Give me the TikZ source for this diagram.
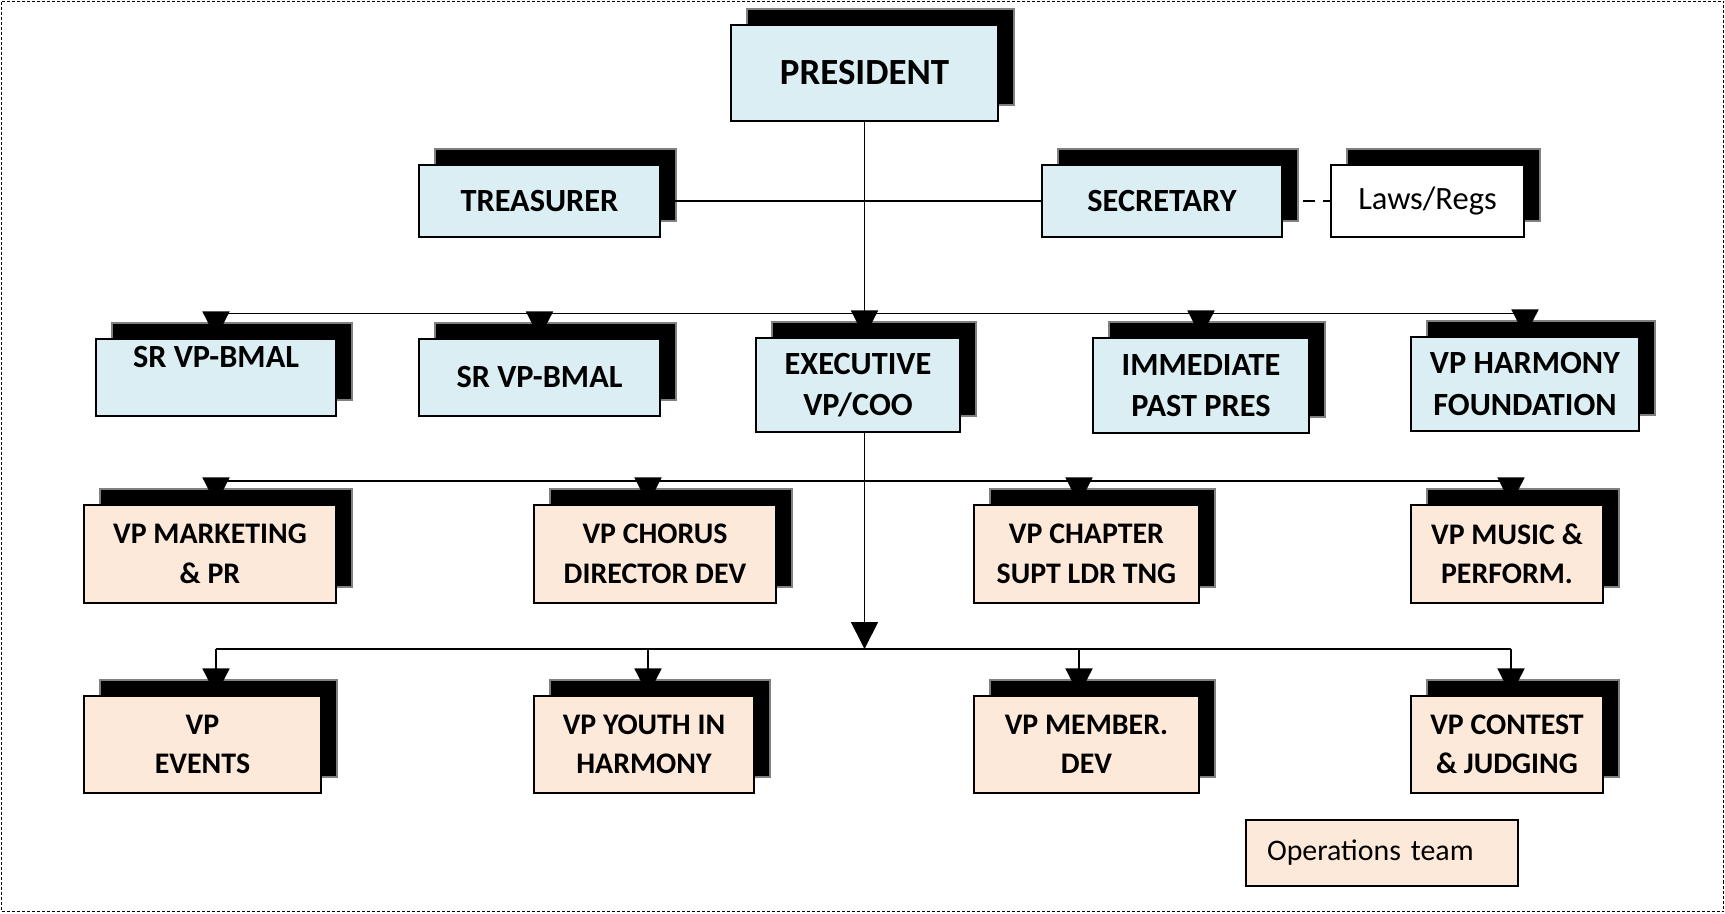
\documentclass[tikz,border=0pt]{standalone}
\usepackage{fontspec}
\setmainfont{Carlito}
\usepackage{xcolor}
\usetikzlibrary{arrows.meta,shadows}
\definecolor{paleblue}{HTML}{DBEEF4}
\definecolor{palepeach}{HTML}{FDE9D9}

\begin{document}
\begin{tikzpicture}[x=0.2mm, y=-0.2mm,
    boxsize/.style 2 args={minimum width=#1*0.2mm, minimum height=#2*0.2mm},
    post/.style={draw=black, line width=0.7pt, align=center, inner sep=2pt,
        font=\fontsize{17}{22.5}\selectfont\bfseries,
        general shadow={shadow xshift=3.2mm, shadow yshift=3.2mm, fill=black, draw=gray, line width=0.6pt}},
    board/.style={post, fill=paleblue, font=\fontsize{18.4}{23.5}\selectfont\bfseries},
    team/.style={post, fill=palepeach},
    link/.style={line width=0.95pt},
    drop/.style={link, -{Triangle[width=5.4mm,length=5.4mm]}},
    bigdrop/.style={link, -{Triangle[width=5.4mm,length=5.4mm]}}]

            \useasboundingbox (0,0) rectangle (1725,913);
            \draw[dash pattern=on 0.6mm off 0.4mm, line width=0.5pt] (1.5,1.5) rectangle (1723.5,911.5);

            \node[board, boxsize={267}{96}, font=\fontsize{21}{25}\selectfont\bfseries] (pres) at (864.5,73) {PRESIDENT};
            \node[board, boxsize={241}{72}] (treas) at (539.5,201) {TREASURER};
            \node[board, boxsize={240}{72}] (sec) at (1162,201) {SECRETARY};
            \node[board, boxsize={193}{72}, fill=white, font=\fontsize{18.5}{23}\selectfont] (laws) at (1427.5,201) {Laws/Regs};

            %board members under the president
            \node[board, boxsize={240}{77}] (srvpa) at (216,377.5) {SR VP-BMAL\\ \mbox{}};
            \node[board, boxsize={241}{77}] (srvpb) at (539.5,377.5) {SR VP-BMAL};
            \node[board, boxsize={204}{94}] (exec) at (858,385) {EXECUTIVE\\VP/COO};
            \node[board, boxsize={216}{95}] (ipp) at (1201,385.5) {IMMEDIATE\\PAST PRES};
            \node[board, boxsize={228}{94}] (vph) at (1525,384) {VP HARMONY\\FOUNDATION};

            %operations team, two rows
            \node[team, boxsize={252}{98}] (mkt) at (210,554) {VP MARKETING\\\& PR};
            \node[team, boxsize={242}{98}] (chorus) at (655,554) {VP CHORUS\\DIRECTOR DEV};
            \node[team, boxsize={225}{98}] (chapter) at (1086.5,554) {VP CHAPTER\\SUPT LDR TNG};
            \node[team, boxsize={192}{98}] (music) at (1507,554) {VP MUSIC \&\\PERFORM.};

            \node[team, boxsize={237}{97}] (events) at (202.5,744.5) {VP\\EVENTS};
            \node[team, boxsize={220}{97}] (youth) at (644,744.5) {VP YOUTH IN\\HARMONY};
            \node[team, boxsize={225}{97}] (member) at (1086.5,744.5) {VP MEMBER.\\DEV};
            \node[team, boxsize={192}{97}] (contest) at (1507,744.5) {VP CONTEST\\\& JUDGING};

            \node[draw, line width=0.7pt, fill=palepeach, boxsize={272}{66}, text width=46mm, align=left,
                font=\fontsize{17}{22.5}\selectfont] (ops) at (1382,853) {Operations team};

            %junction points on the horizontal lines
            \coordinate (bus) at (0,313.5);
            \coordinate (ja) at (216,481);
            \coordinate (jb) at (648,481);
            \coordinate (jc) at (1079,481);
            \coordinate (jd) at (1511,481);
            \coordinate (ka) at (216,649);
            \coordinate (kb) at (648,649);
            \coordinate (kc) at (1079,649);
            \coordinate (kd) at (1511,649);

            \draw[link] (treas.east) -- (sec.west);
            \draw[link, dash pattern=on 2.4mm off 1.6mm] (sec.east) -- (laws.west);

            \draw[drop] (pres.south) -- (pres.south |- exec.north);
            \draw[link] (srvpa.north |- bus) -- (vph.north |- bus);
            \draw[drop] (srvpa.north |- bus) -- (srvpa.north);
            \draw[drop] (srvpb.north |- bus) -- (srvpb.north);
            \draw[drop] (ipp.north |- bus) -- (ipp.north);
            \draw[drop] (vph.north |- bus) -- (vph.north);

            \draw[link] (ja) -- (jd);
            \draw[drop] (ja) -- (ja |- mkt.north);
            \draw[drop] (jb) -- (jb |- chorus.north);
            \draw[drop] (jc) -- (jc |- chapter.north);
            \draw[drop] (jd) -- (jd |- music.north);

            \draw[bigdrop] (pres.south |- exec.south) -- (pres.south |- ka);
            \draw[link] (ka) -- (kd);
            \draw[drop] (ka) -- (ka |- events.north);
            \draw[drop] (kb) -- (kb |- youth.north);
            \draw[drop] (kc) -- (kc |- member.north);
            \draw[drop] (kd) -- (kd |- contest.north);

\end{tikzpicture}
\end{document}
